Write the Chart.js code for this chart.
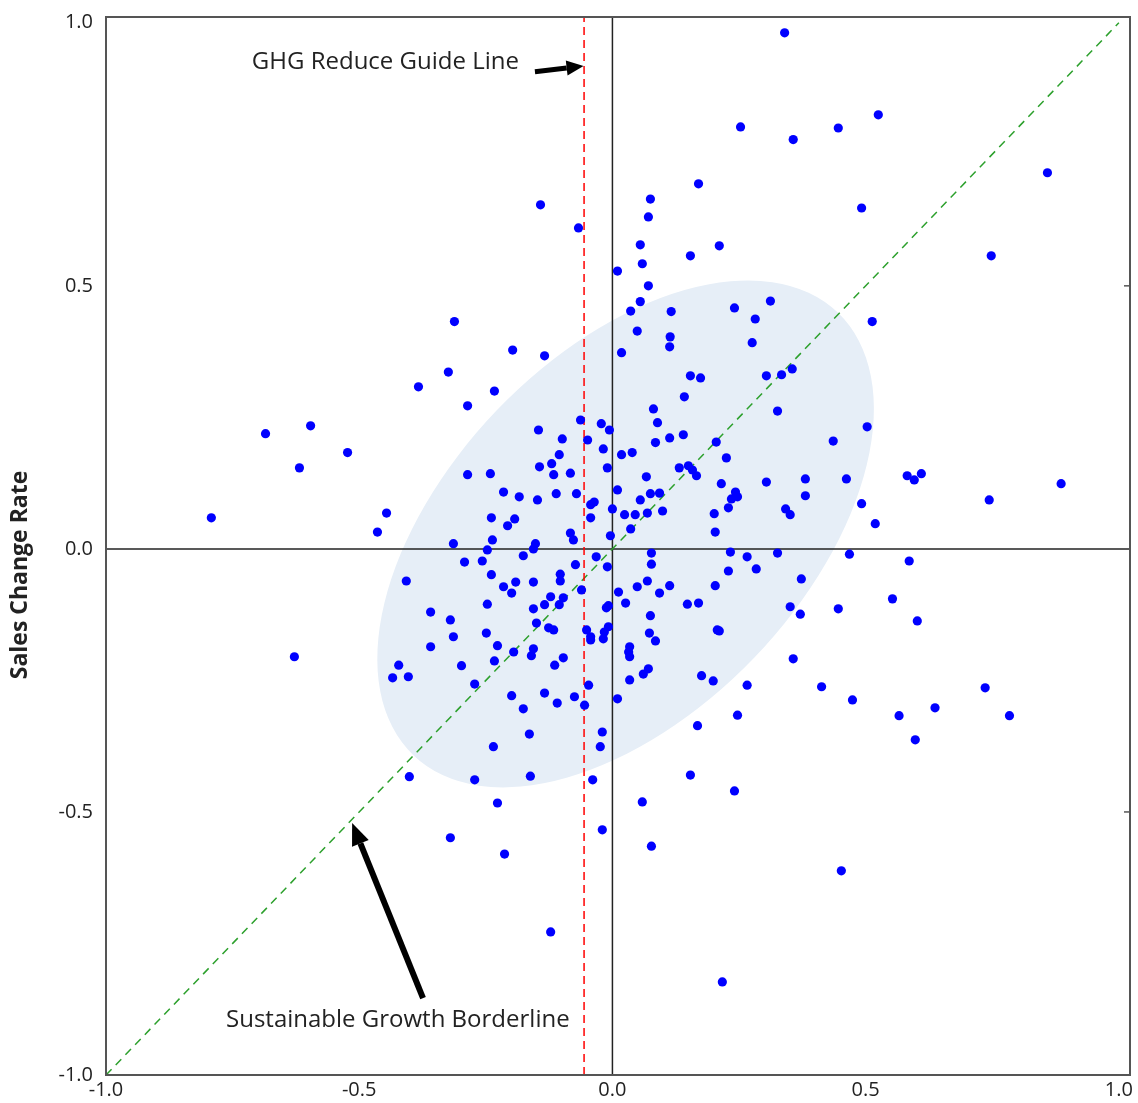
<!DOCTYPE html>
<html>
<head>
<meta charset="utf-8">
<script src="https://cdn.jsdelivr.net/npm/chart.js@4/dist/chart.umd.min.js"></script>
<style>
  html, body { margin: 0; padding: 0; background: #fff; }
  #wrap { width: 1138px; height: 1103px; }
</style>
</head>
<body>
<div id="wrap"><canvas id="chart" width="1138" height="1103"></canvas></div>
<script>
// GHG change rate (x) and sales change rate (y) for each company
const ghgChange = [
  0.340, 0.253, 0.357, 0.446, 0.525, 0.859, 0.170, -0.142, 0.492, 0.075,
  0.071, -0.067, 0.055, 0.211, 0.154, 0.748, 0.059, 0.010, 0.071, 0.055,
  0.036, 0.116, 0.241, 0.312, 0.282, 0.513, -0.312, 0.049, 0.114, 0.113,
  0.276, -0.197, -0.134, 0.018, -0.324, -0.383, -0.233, -0.286, 0.154, 0.174,
  0.304, 0.334, 0.355, 0.142, 0.326, 0.081, -0.063, -0.022, -0.006, -0.146,
  0.089, 0.503, -0.685, -0.596, -0.099, -0.049, 0.085, 0.113, 0.140, 0.205,
  0.436, -0.523, -0.018, -0.105, 0.018, 0.039, 0.225, -0.120, -0.144, -0.010,
  -0.618, -0.116, -0.083, -0.286, -0.241, 0.132, 0.150, 0.158, 0.166, 0.067,
  0.215, 0.304, 0.381, 0.462, 0.582, 0.596, 0.610, 0.886, 0.010, -0.215,
  -0.184, -0.148, -0.111, -0.071, -0.043, -0.036, 0.055, 0.075, 0.093, 0.243,
  0.235, 0.247, 0.381, 0.492, 0.744, 0.000, 0.024, 0.045, 0.069, 0.099,
  0.229, 0.201, 0.342, 0.351, -0.043, -0.446, -0.239, -0.193, -0.207, -0.792,
  0.519, 0.036, 0.203, -0.464, -0.083, -0.077, -0.004, -0.314, -0.237, -0.152,
  -0.156, -0.247,
  -0.176, -0.073, -0.032, -0.010, 0.077, 0.077, -0.292, -0.257, 0.233, 0.266,
  0.284, 0.326, 0.468, 0.586, 0.229, -0.103, -0.103, -0.215, -0.191, -0.156,
  -0.199, -0.239, -0.407, -0.061, 0.012, 0.049, 0.069, 0.113, 0.093, 0.203,
  0.373, -0.122, -0.097, -0.105, -0.134, -0.156, 0.026, -0.012, -0.008, -0.247,
  0.148, 0.170, 0.351, 0.371, 0.446, 0.553, 0.075, -0.359, -0.320, 0.602,
  -0.150, -0.126, -0.116, -0.051, -0.043, -0.043, -0.016, -0.008, -0.018, -0.314,
  -0.249, 0.073, 0.085, 0.207, 0.211, -0.359, -0.227, -0.195, -0.156, -0.160,
  0.034, 0.032, 0.034, -0.628, 0.357, -0.233, -0.298, -0.097, -0.114, -0.422,
  -0.434, -0.403, 0.071, 0.061, 0.034, 0.176, 0.199, -0.272, 0.266, 0.413,
  0.736, -0.047, -0.199, -0.134, -0.075, 0.010, 0.474, -0.176, -0.109, -0.055,
  0.637, 0.566, 0.784, 0.247, 0.168, -0.164, -0.020, 0.598, -0.024, -0.235,
  0.154, -0.401, -0.272, -0.162, -0.039, 0.241, 0.059, -0.227, -0.320, -0.213,
  -0.020, 0.077, 0.452, -0.122, 0.217
];
const salesChange = [
  0.981, 0.802, 0.778, 0.800, 0.825, 0.715, 0.694, 0.654, 0.648, 0.665,
  0.631, 0.610, 0.578, 0.576, 0.557, 0.557, 0.542, 0.528, 0.500, 0.470,
  0.452, 0.451, 0.458, 0.471, 0.437, 0.432, 0.432, 0.414, 0.403, 0.384,
  0.392, 0.378, 0.367, 0.373, 0.336, 0.308, 0.300, 0.272, 0.329, 0.325,
  0.329, 0.331, 0.342, 0.289, 0.262, 0.266, 0.245, 0.238, 0.226, 0.226,
  0.240, 0.232, 0.219, 0.234, 0.209, 0.207, 0.202, 0.211, 0.217, 0.203,
  0.205, 0.183, 0.190, 0.179, 0.179, 0.183, 0.173, 0.162, 0.156, 0.154,
  0.154, 0.141, 0.144, 0.141, 0.143, 0.154, 0.158, 0.150, 0.139, 0.137,
  0.124, 0.127, 0.133, 0.133, 0.139, 0.131, 0.143, 0.124, 0.112, 0.108,
  0.099, 0.093, 0.105, 0.105, 0.084, 0.089, 0.093, 0.105, 0.106, 0.108,
  0.095, 0.099, 0.101, 0.086, 0.093, 0.076, 0.065, 0.065, 0.068, 0.072,
  0.078, 0.067, 0.076, 0.065, 0.059, 0.068, 0.059, 0.057, 0.044, 0.059,
  0.048, 0.038, 0.032, 0.032, 0.030, 0.017, 0.025, 0.010, 0.017, 0.010,
  0.000, -0.002,
  -0.013, -0.030, -0.015, -0.034, -0.008, -0.029, -0.025, -0.023, -0.006, -0.015,
  -0.038, -0.008, -0.010, -0.023, -0.042, -0.048, -0.061, -0.072, -0.063, -0.063,
  -0.084, -0.049, -0.061, -0.078, -0.082, -0.072, -0.061, -0.070, -0.084, -0.070,
  -0.057, -0.091, -0.093, -0.106, -0.106, -0.114, -0.103, -0.112, -0.108, -0.105,
  -0.105, -0.103, -0.110, -0.124, -0.114, -0.095, -0.127, -0.120, -0.135, -0.137,
  -0.141, -0.150, -0.154, -0.154, -0.167, -0.173, -0.158, -0.148, -0.171, -0.167,
  -0.160, -0.160, -0.175, -0.154, -0.156, -0.186, -0.184, -0.196, -0.190, -0.203,
  -0.186, -0.196, -0.205, -0.205, -0.209, -0.213, -0.222, -0.207, -0.221, -0.221,
  -0.245, -0.243, -0.228, -0.238, -0.249, -0.241, -0.251, -0.257, -0.259, -0.262,
  -0.264, -0.259, -0.279, -0.274, -0.281, -0.285, -0.287, -0.304, -0.293, -0.297,
  -0.302, -0.317, -0.317, -0.316, -0.336, -0.352, -0.348, -0.363, -0.376, -0.376,
  -0.430, -0.433, -0.439, -0.432, -0.439, -0.460, -0.481, -0.483, -0.549, -0.580,
  -0.534, -0.565, -0.612, -0.728, -0.823
];
const tickValues = [-1.0, -0.5, 0.0, 0.5, 1.0];
const ghgGuideX = -0.056;           // GHG reduce guide line
const borderline = [-1, 1];         // sustainable growth borderline y = x

const X_MIN = -1, X_MAX = 1.022;
const Y_MIN = -1, Y_MAX = 1.011;

const FONT = '"Open Sans", "DejaVu Sans", sans-serif';

function drawArrow(ctx, x1, y1, x2, y2, shaft, headLen, headW) {
  const ang = Math.atan2(y2 - y1, x2 - x1);
  const bx = x2 - headLen * Math.cos(ang), by = y2 - headLen * Math.sin(ang);
  ctx.lineWidth = shaft;
  ctx.beginPath();
  ctx.moveTo(x1, y1);
  ctx.lineTo(bx, by);
  ctx.stroke();
  ctx.beginPath();
  ctx.moveTo(x2, y2);
  ctx.lineTo(bx + headW / 2 * Math.sin(ang), by - headW / 2 * Math.cos(ang));
  ctx.lineTo(bx - headW / 2 * Math.sin(ang), by + headW / 2 * Math.cos(ang));
  ctx.closePath();
  ctx.fill();
}

const decor = {
  id: 'decor',
  beforeDatasetsDraw(chart) {
    const { ctx, chartArea, scales: { x, y } } = chart;
    // shaded confidence ellipse
    const unit = x.getPixelForValue(1) - x.getPixelForValue(0);
    ctx.save();
    ctx.beginPath();
    ctx.rect(chartArea.left, chartArea.top, chartArea.width, chartArea.height);
    ctx.clip();
    ctx.fillStyle = '#e6eef7';
    ctx.beginPath();
    ctx.ellipse(x.getPixelForValue(0.026), y.getPixelForValue(0.0285),
      0.6055 * unit, 0.3525 * unit, -46.2 * Math.PI / 180, 0, Math.PI * 2);
    ctx.fill();
    ctx.restore();
  },
  afterDraw(chart) {
    const { ctx, chartArea, scales: { x, y } } = chart;
    ctx.save();
    // frame
    ctx.strokeStyle = '#555';
    ctx.lineWidth = 2;
    ctx.strokeRect(chartArea.left, chartArea.top, chartArea.width, chartArea.height);
    // small inner ticks on the right edge
    ctx.lineWidth = 1.5;
    [-0.5, 0.5].forEach(v => {
      const py = y.getPixelForValue(v);
      ctx.beginPath();
      ctx.moveTo(chartArea.right - 6, py);
      ctx.lineTo(chartArea.right, py);
      ctx.stroke();
    });

    // annotations
    ctx.fillStyle = '#222';
    ctx.font = '24px ' + FONT;
    ctx.textBaseline = 'middle';
    ctx.textAlign = 'left';
    ctx.fillText('GHG Reduce Guide Line', x.getPixelForValue(-0.712), y.getPixelForValue(0.926));
    ctx.fillText('Sustainable Growth Borderline', x.getPixelForValue(-0.763), y.getPixelForValue(-0.895));

    ctx.fillStyle = '#000';
    ctx.strokeStyle = '#000';
    drawArrow(ctx, x.getPixelForValue(-0.153), y.getPixelForValue(0.907),
      x.getPixelForValue(-0.057), y.getPixelForValue(0.918), 5, 17, 15);
    drawArrow(ctx, x.getPixelForValue(-0.374), y.getPixelForValue(-0.854),
      x.getPixelForValue(-0.514), y.getPixelForValue(-0.521), 6, 22, 18);

    // y axis title
    ctx.fillStyle = '#222';
    ctx.font = 'bold 23px ' + FONT;
    ctx.textAlign = 'center';
    ctx.translate(20, 575);
    ctx.rotate(-Math.PI / 2);
    ctx.fillText('Sales Change Rate', 0, 0);
    ctx.restore();
  }
};

const points = ghgChange.map((v, i) => ({ x: v, y: salesChange[i] }));

new Chart(document.getElementById('chart'), {
  type: 'scatter',
  data: {
    datasets: [
      {
        label: 'Companies',
        data: points,
        backgroundColor: '#0000ff',
        borderColor: '#0000ff',
        borderWidth: 0,
        pointRadius: 4.6,
        order: 0
      },
      {
        label: 'zero x',
        type: 'line',
        data: [{ x: 0, y: Y_MIN }, { x: 0, y: Y_MAX }],
        borderColor: '#222',
        borderWidth: 1.5,
        pointRadius: 0,
        order: 2
      },
      {
        label: 'zero y',
        type: 'line',
        data: [{ x: X_MIN, y: 0 }, { x: X_MAX, y: 0 }],
        borderColor: '#222',
        borderWidth: 1.5,
        pointRadius: 0,
        order: 2
      },
      {
        label: 'GHG Reduce Guide Line',
        type: 'line',
        data: [{ x: ghgGuideX, y: Y_MIN }, { x: ghgGuideX, y: Y_MAX }],
        borderColor: '#ff0000',
        borderWidth: 1.5,
        borderDash: [8, 5],
        pointRadius: 0,
        order: 1
      },
      {
        label: 'Sustainable Growth Borderline',
        type: 'line',
        data: borderline.map(v => ({ x: v, y: v })),
        borderColor: '#2ca02c',
        borderWidth: 1.5,
        borderDash: [8, 6],
        pointRadius: 0,
        order: 1
      }
    ]
  },
  options: {
    responsive: false,
    animation: false,
    devicePixelRatio: 1,
    layout: { padding: { left: 0, top: 17, right: 8, bottom: 0 } },
    plugins: { legend: { display: false }, tooltip: { enabled: false } },
    scales: {
      x: {
        type: 'linear',
        min: X_MIN,
        max: X_MAX,
        afterBuildTicks: s => { s.ticks = tickValues.map(v => ({ value: v })); },
        afterFit: s => { s.height = 28; s.paddingLeft = 0; s.paddingRight = 0; },
        grid: { display: false, drawTicks: false },
        border: { display: false },
        ticks: {
          padding: 3,
          color: '#222',
          font: { family: FONT, size: 20 },
          maxRotation: 0,
          callback: v => Number(v).toFixed(1)
        }
      },
      y: {
        type: 'linear',
        min: Y_MIN,
        max: Y_MAX,
        afterBuildTicks: s => { s.ticks = tickValues.map(v => ({ value: v })); },
        afterFit: s => { s.width = 106; s.paddingTop = 0; s.paddingBottom = 0; },
        grid: { display: false, drawTicks: false },
        border: { display: false },
        ticks: {
          padding: 13,
          color: '#222',
          font: { family: FONT, size: 20 },
          callback: v => Number(v).toFixed(1)
        }
      }
    }
  },
  plugins: [decor]
});
</script>
</body>
</html>
